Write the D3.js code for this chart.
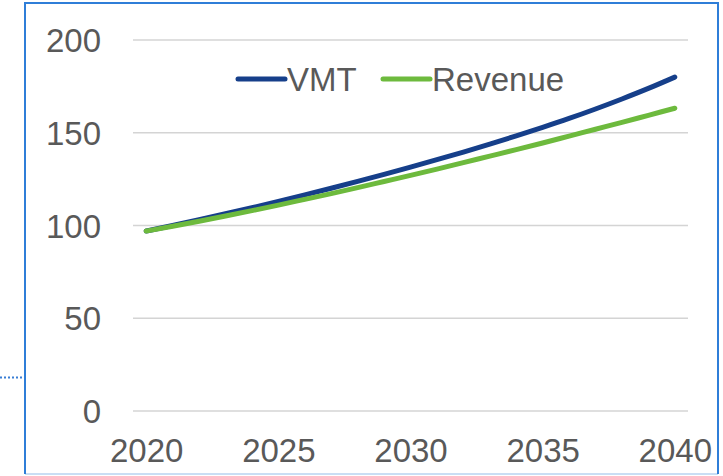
<!DOCTYPE html>
<html>
<head>
<meta charset="utf-8">
<script src="https://cdn.jsdelivr.net/npm/d3@7"></script>
<style>
  html, body { margin: 0; padding: 0; background: #ffffff; }
  svg { display: block; }
  text { font-family: "Liberation Sans", Arial, sans-serif; }
</style>
</head>
<body>
<svg id="chart" width="723" height="476"></svg>
<script>
const years = d3.range(2020, 2041);
const vmt = [97, 100, 103.1, 106.3, 109.6, 113, 116.5, 120.1, 123.8, 127.6, 131.5, 135.5, 139.6, 143.9, 148.3, 152.9, 157.7, 162.8, 168.2, 173.9, 180];
const revenue = [97, 99.6, 102.3, 105.1, 108, 111, 114.1, 117.2, 120.4, 123.7, 127, 130.4, 133.9, 137.4, 140.9, 144.5, 148.2, 151.9, 155.6, 159.4, 163.2];
const yTicks = [0, 50, 100, 150, 200];
const xTickLabels = [2020, 2025, 2030, 2035, 2040];
const seriesNames = ["VMT", "Revenue"];
const seriesColors = ["#163f8a", "#6dba3d"];

const svg = d3.select("#chart");

// frame
svg.append("line").attr("x1", 0).attr("x2", 23).attr("y1", 377.5).attr("y2", 377.5)
  .attr("stroke", "#3a7fd5").attr("stroke-width", 2).attr("stroke-dasharray", "2,2");
svg.append("line").attr("x1", 25).attr("x2", 718).attr("y1", 474).attr("y2", 474)
  .attr("stroke", "#c9def4").attr("stroke-width", 2);
svg.append("path").attr("d", "M25,474 L25,3 L718,3 L718,474")
  .attr("fill", "none").attr("stroke", "#2f7ed8").attr("stroke-width", 2);

const x = d3.scalePoint().domain(years).range([133, 688]).padding(0.5);
const y = d3.scaleLinear().domain([0, 200]).range([411, 40]);

// gridlines
svg.append("g").selectAll("line").data(yTicks).join("line")
  .attr("x1", 133).attr("x2", 688)
  .attr("y1", d => y(d)).attr("y2", d => y(d))
  .attr("stroke", "#d4d4d4").attr("stroke-width", 1.5);

// y axis labels
const yAxis = svg.append("g").attr("transform", "translate(101,0)")
  .call(d3.axisLeft(y).tickValues(yTicks).tickSize(0).tickPadding(0));
yAxis.select(".domain").remove();
yAxis.selectAll("text").attr("fill", "#595959").style("font-size", "33px")
  .style("font-family", "'Liberation Sans', Arial, sans-serif").attr("dy", "0.35em");

// x axis labels
const xAxis = svg.append("g").attr("transform", "translate(0,411)")
  .call(d3.axisBottom(x).tickValues(xTickLabels).tickSize(0).tickPadding(0));
xAxis.select(".domain").remove();
xAxis.selectAll("text").attr("fill", "#595959").style("font-size", "33px")
  .style("font-family", "'Liberation Sans', Arial, sans-serif").attr("dy", null).attr("y", 51);

// lines
const line = d3.line().x((d, i) => x(years[i])).y(d => y(d)).curve(d3.curveMonotoneX);
[vmt, revenue].forEach((s, k) => {
  svg.append("path").datum(s).attr("d", line)
    .attr("fill", "none").attr("stroke", seriesColors[k]).attr("stroke-width", 5)
    .attr("stroke-linecap", "round").attr("stroke-linejoin", "round");
});

// legend
const legendX = [238, 383];
seriesNames.forEach((name, k) => {
  const g = svg.append("g").attr("transform", `translate(${legendX[k]},79)`);
  g.append("line").attr("x1", 0).attr("x2", 47).attr("y1", 0).attr("y2", 0)
    .attr("stroke", seriesColors[k]).attr("stroke-width", 5).attr("stroke-linecap", "round");
  g.append("text").attr("x", 49).attr("y", 12).attr("fill", "#595959")
    .style("font-size", "33px").text(name);
});
</script>
</body>
</html>
